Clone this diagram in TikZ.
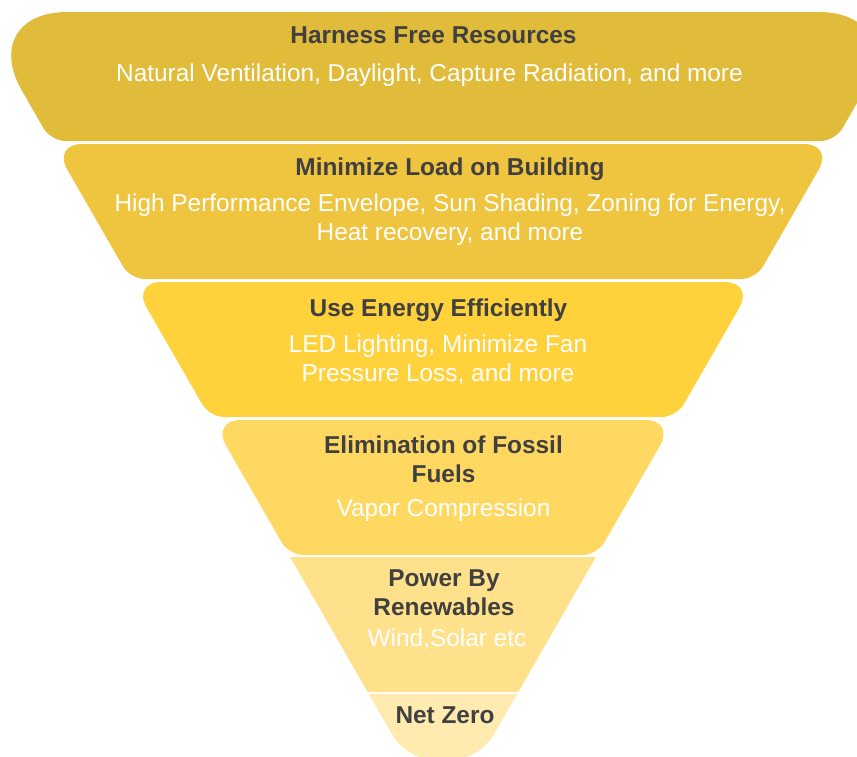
\documentclass[tikz,border=0pt]{standalone}
\usepackage{fontspec}
\setmainfont{Liberation Sans}
\usepackage{xcolor}
\definecolor{lay1}{HTML}{E1BB3A}
\definecolor{lay2}{HTML}{EFC43E}
\definecolor{lay3}{HTML}{FFD13B}
\definecolor{lay4}{HTML}{FFD862}
\definecolor{lay5}{HTML}{FFE18B}
\definecolor{lay6}{HTML}{FFEBB0}
\definecolor{ink}{HTML}{404040}
\usepackage{tikz}
\tikzset{
  headtxt/.style = {font=\bfseries\fontsize{18.3}{21.7}\selectfont, text=ink,
                    align=center, inner sep=0pt, anchor=base},
  subtxt/.style  = {font=\fontsize{18.3}{21.7}\selectfont, text=white,
                    align=center, inner sep=0pt, anchor=base}
}

\begin{document}
\begin{tikzpicture}[x=0.75pt, y=-0.75pt]
  \useasboundingbox (0,0) rectangle (857,757);
  \clip (0,0) rectangle (857,757);
  % layers: top y / bottom y / colour / top radius / bottom radius
  \foreach \ya/\yb/\col/\ra/\rb in {12/141/lay1/68/11, 144/279/lay2/22/11,
      282/417/lay3/22/11, 420/555/lay4/22/11, 557/692/lay5/0.1/0.1,
      694/760/lay6/0.1/21}{
    \pgfmathsetmacro\wa{0.575*(823-\ya)}
    \pgfmathsetmacro\wb{0.575*(823-\yb)}
    \fill[\col] (443,\ya) [rounded corners=\ra pt] -- (443-\wa,\ya)
      [rounded corners=\rb pt] -- (443-\wb,\yb) -- (443+\wb,\yb)
      [rounded corners=\ra pt] -- (443+\wa,\ya) -- cycle;
  }

  % base = last line of each text
  \node[headtxt] (t1) at (433.5,43) {Harness Free Resources};
  \node[subtxt]  (s1) at (429.5,81) {Natural Ventilation, Daylight, Capture Radiation, and more};
  \node[headtxt] (t2) at (450,175) {Minimize Load on Building};
  \node[subtxt]  (s2) at (450,240) {High Performance Envelope, Sun Shading, Zoning for Energy,\\ Heat recovery, and more};
  \node[headtxt] (t3) at (438.5,316) {Use Energy Efficiently};
  \node[subtxt]  (s3) at (438,381) {LED Lighting, Minimize Fan\\ Pressure Loss, and more};
  \node[headtxt] (t4) at (443.5,482) {Elimination of Fossil\\ Fuels};
  \node[subtxt]  (s4) at (443.5,516) {Vapor Compression};
  \node[headtxt] (t5) at (444,615) {Power By\\ Renewables};
  \node[subtxt]  (s5) at (447,646) {Wind,Solar etc};
  \node[headtxt] (t6) at (445,723) {Net Zero};
\end{tikzpicture}
\end{document}
